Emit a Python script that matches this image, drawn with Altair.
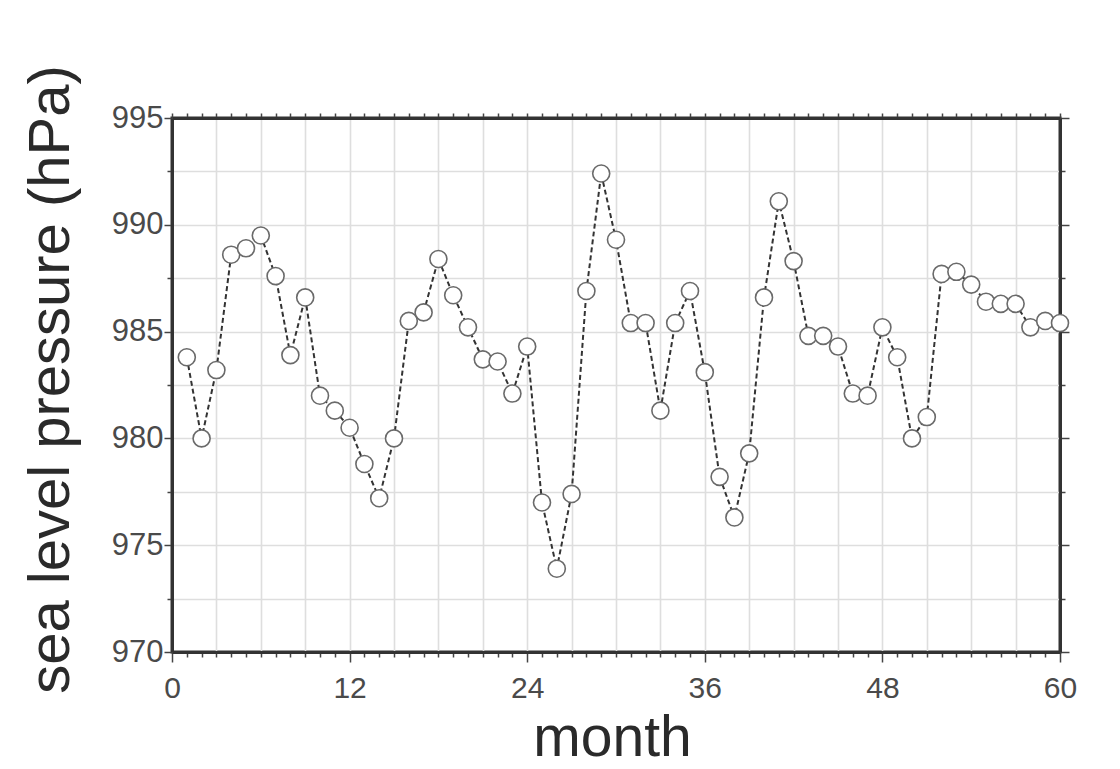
import altair as alt
import pandas as pd

months = list(range(1, 61))
slp = [983.8, 980.0, 983.2, 988.6, 988.9, 989.5, 987.6, 983.9, 986.6, 982.0,
       981.3, 980.5, 978.8, 977.2, 980.0, 985.5, 985.9, 988.4, 986.7, 985.2,
       983.7, 983.6, 982.1, 984.3, 977.0, 973.9, 977.4, 986.9, 992.4, 989.3,
       985.4, 985.4, 981.3, 985.4, 986.9, 983.1, 978.2, 976.3, 979.3, 986.6,
       991.1, 988.3, 984.8, 984.8, 984.3, 982.1, 982.0, 985.2, 983.8, 980.0,
       981.0, 987.7, 987.8, 987.2, 986.4, 986.3, 986.3, 985.2, 985.5, 985.4]

x_ticks = list(range(0, 61))
y_ticks = [970 + 2.5 * i for i in range(11)]

df = pd.DataFrame({"month": months, "slp": slp})

FONT = "Liberation Sans"
x_scale = alt.Scale(domain=[0, 60], nice=False, zero=False)
y_scale = alt.Scale(domain=[970, 995], nice=False, zero=False)

axis_common = dict(domainColor="#333333", domainWidth=3, tickColor="#444444",
                   labelColor="#4a4a4a", titleColor="#2a2a2a", labelFont=FONT,
                   titleFont=FONT, titleFontWeight="normal")

x_axis = alt.Axis(
    orient="bottom", values=x_ticks, grid=False, title="month",
    labelExpr="datum.value % 12 == 0 ? datum.label : ''",
    tickSize={"condition": {"test": "datum.value % 12 == 0", "value": 10}, "value": 5},
    tickWidth=1.5, labelFontSize=30, labelPadding=11, titleFontSize=57,
    titleX=440, titleY=103, titleBaseline="alphabetic", titleAlign="center",
    labelFlush=False, labelOverlap=False, **axis_common)

y_axis = alt.Axis(
    orient="left", values=y_ticks, grid=False, title="sea level pressure (hPa)",
    labelExpr="datum.value % 5 == 0 ? datum.label : ''",
    tickSize={"condition": {"test": "datum.value % 5 == 0", "value": 8}, "value": 5},
    tickWidth=1.5, labelFontSize=31, labelPadding=1, titleFontSize=58,
    titleX=-104, titleY=261, titleBaseline="alphabetic", titleAlign="center",
    titleAngle=-90, labelFlush=False, labelOverlap=False, **axis_common)

x_axis_top = alt.Axis(
    orient="top", values=x_ticks, labels=False, title=None, grid=True,
    gridColor="#dedede", gridWidth=1.6,
    gridOpacity={"condition": {"test": "datum.value % 3 == 0", "value": 1}, "value": 0},
    tickSize=5, tickWidth=1.5, domainColor="#333333", domainWidth=3,
    tickColor="#444444")

y_axis_right = alt.Axis(
    orient="right", values=y_ticks, labels=False, title=None, grid=True,
    gridColor="#dedede", gridWidth=1.6,
    tickSize={"condition": {"test": "datum.value % 5 == 0", "value": 9}, "value": 5},
    tickWidth=1.5, domainColor="#333333", domainWidth=3, tickColor="#444444")

base = alt.Chart(df)

grid_layer = base.mark_point(opacity=0).encode(
    x=alt.X("month:Q", scale=x_scale, axis=x_axis_top),
    y=alt.Y("slp:Q", scale=y_scale, axis=y_axis_right),
)

line = base.mark_line(color="#333333", strokeDash=[5, 3], strokeWidth=2).encode(
    x=alt.X("month:Q", scale=x_scale, axis=x_axis),
    y=alt.Y("slp:Q", scale=y_scale, axis=y_axis),
)

pts = base.mark_circle(size=290, color="white", opacity=1, stroke="#6a6a6a",
                       strokeWidth=1.6).encode(
    x=alt.X("month:Q", scale=x_scale, axis=None),
    y=alt.Y("slp:Q", scale=y_scale, axis=None),
)

chart = alt.layer(grid_layer, line, pts).resolve_axis(
    x="independent", y="independent"
).properties(
    width=888, height=534,
    autosize=alt.AutoSizeParams(type="none"),
    padding={"left": 164, "top": 110, "right": 52, "bottom": 116},
    background="white",
).configure_view(stroke="#333333", strokeWidth=3)

chart.save("out.html", embed_options={"renderer": "svg", "actions": False})
